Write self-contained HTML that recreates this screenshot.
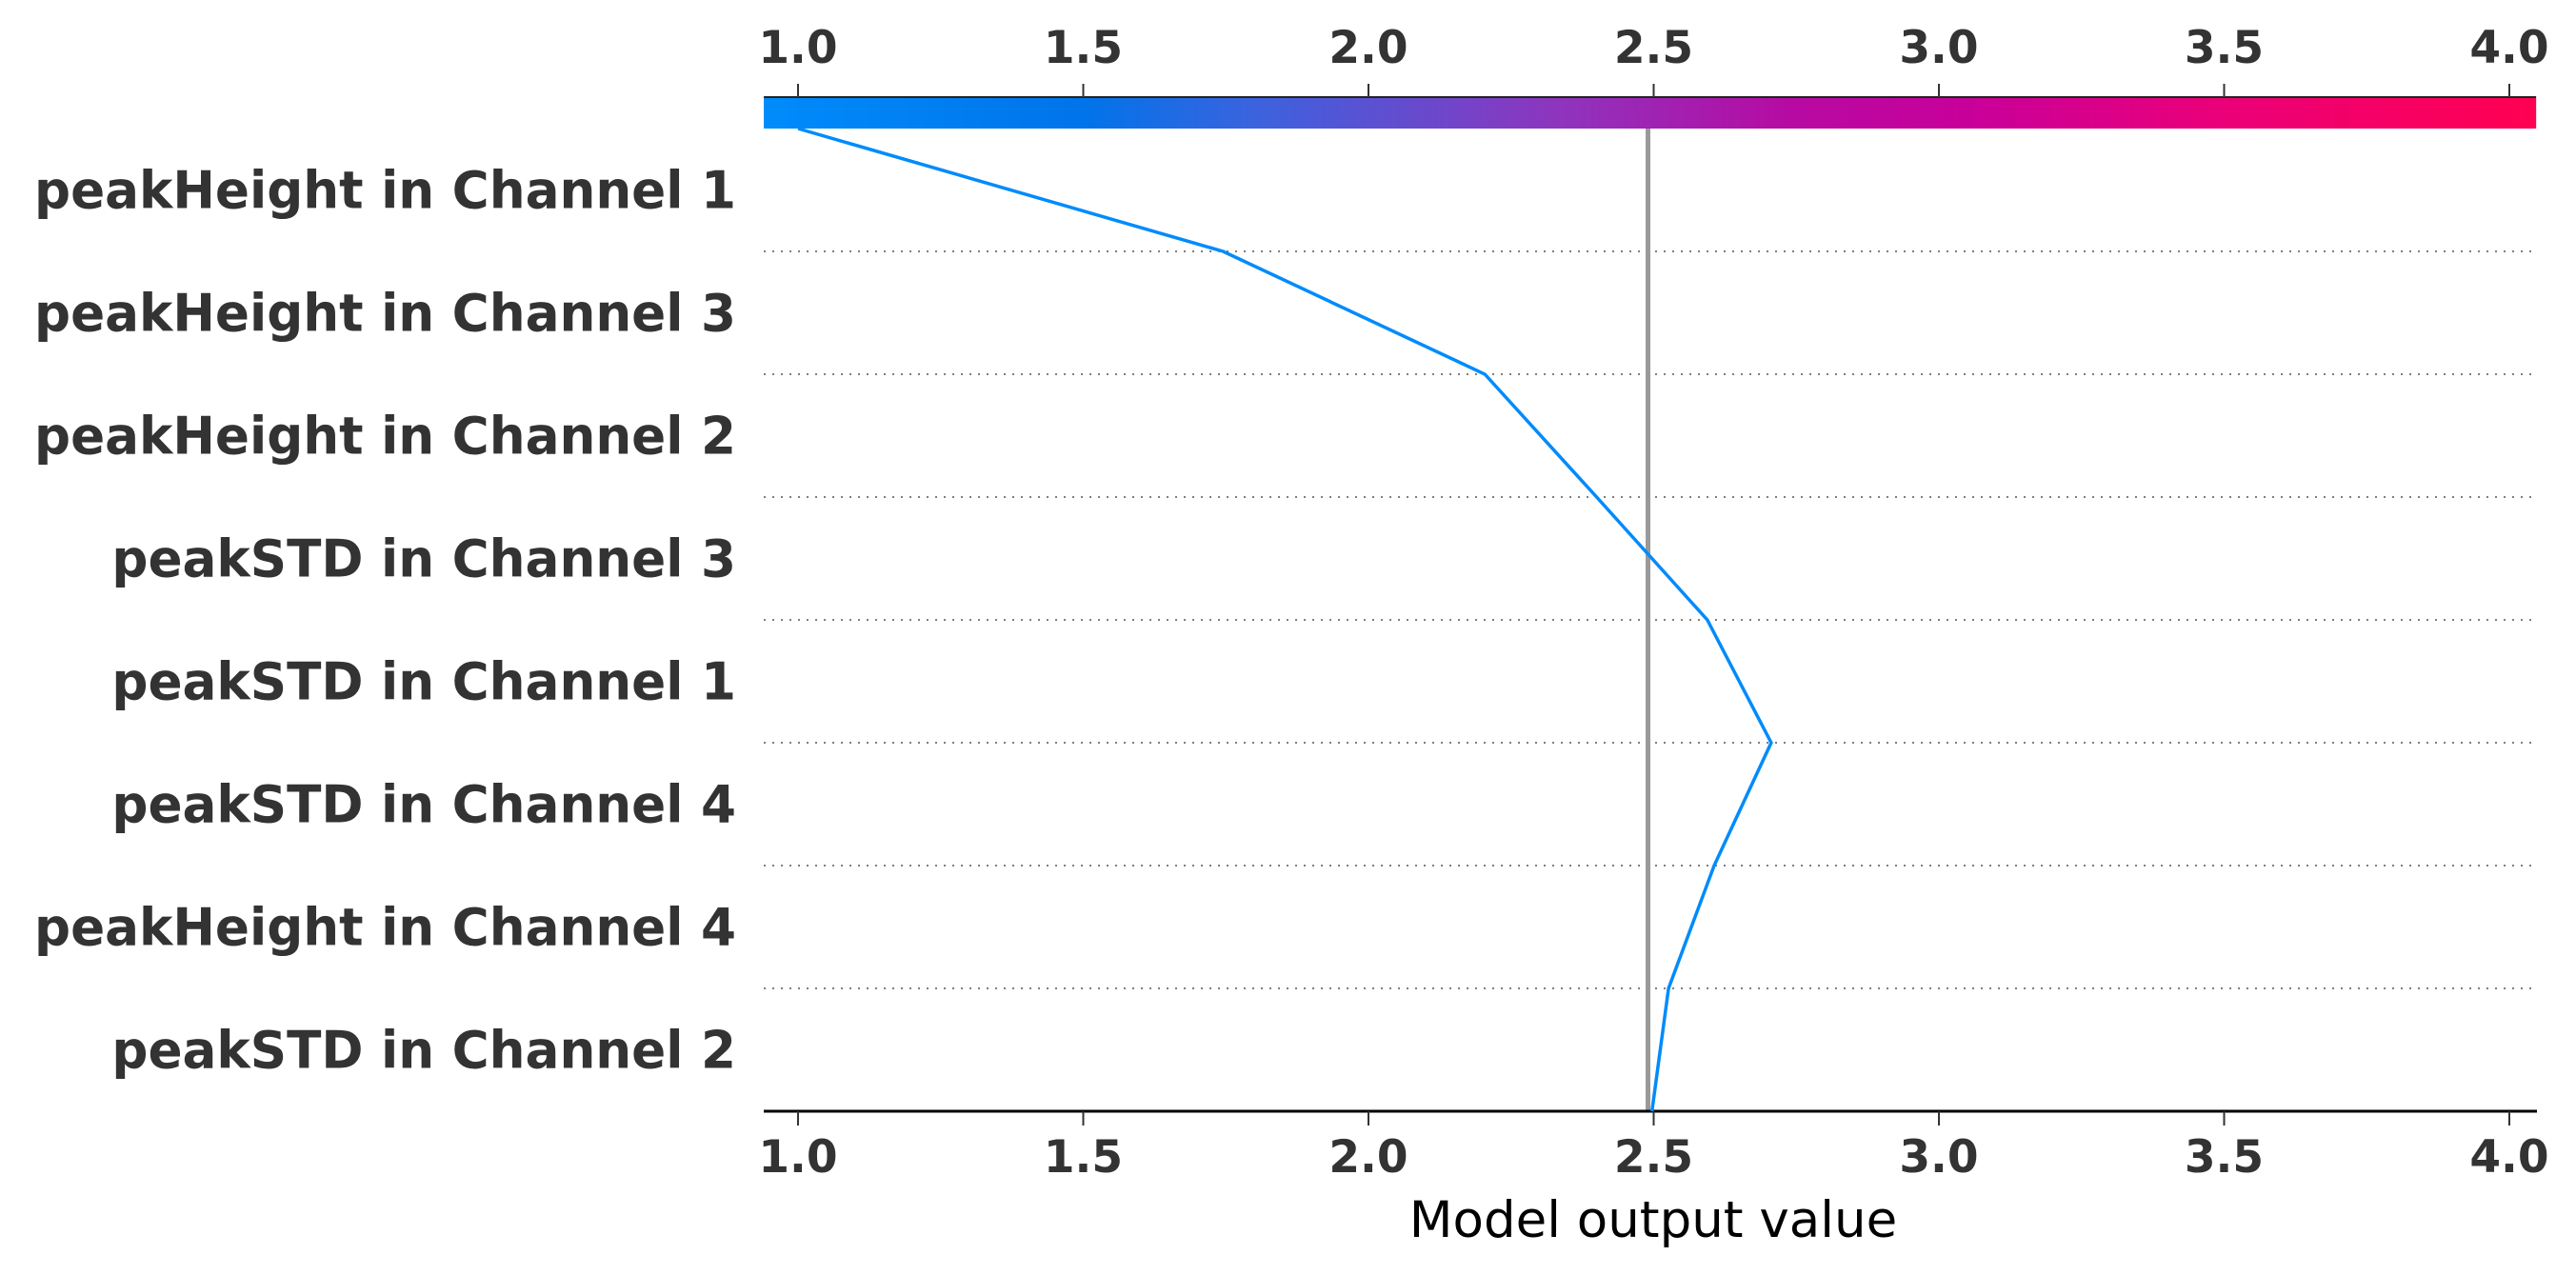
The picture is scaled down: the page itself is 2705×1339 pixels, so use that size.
<!DOCTYPE html>
<html><head><meta charset="utf-8"><style>
html,body{margin:0;padding:0;background:#fff;}
svg{display:block;}
</style></head><body>
<svg id="chart" width="2705" height="1339" viewBox="0 0 2705 1339" xmlns="http://www.w3.org/2000/svg">
<defs>
<linearGradient id="cbar" x1="0" x2="1" y1="0" y2="0">
<stop offset="0" stop-color="#008bfb"/>
<stop offset="0.18" stop-color="#0074ea"/>
<stop offset="0.28" stop-color="#3d62de"/>
<stop offset="0.45" stop-color="#8f34bd"/>
<stop offset="0.58" stop-color="#b70aa2"/>
<stop offset="0.68" stop-color="#c8009a"/>
<stop offset="0.82" stop-color="#ea0079"/>
<stop offset="1" stop-color="#ff0052"/>
</linearGradient>
</defs>
<g id="layer"></g>
</svg>
<script>
const features = ["peakHeight in Channel 1","peakHeight in Channel 3","peakHeight in Channel 2","peakSTD in Channel 3","peakSTD in Channel 1","peakSTD in Channel 4","peakHeight in Channel 4","peakSTD in Channel 2"];
// cumulative model output at each row boundary, top to bottom
const pathValues = [1.00, 1.745, 2.204, 2.40, 2.594, 2.706, 2.606, 2.526, 2.497];
const baseValue = 2.49;
const tickValues = [1.0, 1.5, 2.0, 2.5, 3.0, 3.5, 4.0];
const tickLabels = ["1.0","1.5","2.0","2.5","3.0","3.5","4.0"];
const xMin = 0.94, xMax = 4.047;

const NS = "http://www.w3.org/2000/svg";
const layer = document.getElementById('layer');
const plotLeft = 802, plotRight = 2664, plotTop = 135, plotBottom = 1167;
const rowH = (plotBottom - plotTop) / features.length;
function sx(v){ return 838 + (v - 1.0) * 599; }
function sy(i){ return plotTop + i * rowH; }
function mk(tag, attrs){
  const e = document.createElementNS(NS, tag);
  for (const k in attrs) e.setAttribute(k, attrs[k]);
  layer.appendChild(e);
  return e;
}

const cb = mk('rect', {x: sx(xMin), y: 103, width: sx(xMax) - sx(xMin), height: 32, fill: 'url(#cbar)'});


const cbLine = mk('line', {x1: sx(xMin), x2: sx(xMax), y1: 102, y2: 102, stroke: '#222', 'stroke-width': 2});



for (let i = 1; i < features.length; i++) {
  const l = mk('line', {x1: plotLeft, x2: plotRight, y1: sy(i), y2: sy(i), stroke: '#555', 'stroke-width': 1.5, 'stroke-dasharray': '2 7'});
  
  
}

const labelEls = [];
features.forEach((f, i) => {
  const t = mk('text', {x: 773, y: sy(i) + rowH / 2 + 19, 'text-anchor': 'end', 'font-family': 'DejaVu Sans, Liberation Sans, sans-serif', 'font-weight': 'bold', 'font-size': 54, fill: '#333'});
  t.textContent = f;
  
  
  labelEls.push(t);
});
// scale label widths to match reference ("peakHeight in Channel 1" ~737px wide)
try {
  const scale = 737 / labelEls[0].getComputedTextLength();
  labelEls.forEach(t => {
    const w = t.getComputedTextLength() * scale;
    t.setAttribute('textLength', w.toFixed(1));
    t.setAttribute('lengthAdjust', 'spacingAndGlyphs');
  });
} catch (e) {}

const bl = mk('line', {x1: sx(baseValue), x2: sx(baseValue), y1: plotTop, y2: plotBottom, stroke: '#999', 'stroke-width': 5});



const ax = mk('line', {x1: plotLeft, x2: plotRight, y1: plotBottom, y2: plotBottom, stroke: '#000', 'stroke-width': 3});



tickValues.forEach((v, i) => {
  const tk = mk('line', {x1: sx(v), x2: sx(v), y1: plotBottom, y2: 1182, stroke: '#333', 'stroke-width': 2});
  
  
  const tl = mk('text', {x: sx(v), y: 1231, 'text-anchor': 'middle', 'font-family': 'DejaVu Sans, Liberation Sans, sans-serif', 'font-weight': 'bold', 'font-size': 47, fill: '#333'});
  tl.textContent = tickLabels[i];
  
  
  const tt = mk('line', {x1: sx(v), x2: sx(v), y1: 88, y2: 102, stroke: '#333', 'stroke-width': 2});
  
  
  const ttl = mk('text', {x: sx(v), y: 66, 'text-anchor': 'middle', 'font-family': 'DejaVu Sans, Liberation Sans, sans-serif', 'font-weight': 'bold', 'font-size': 47, fill: '#333'});
  ttl.textContent = tickLabels[i];
  
  
});

const xt = mk('text', {x: 1736, y: 1299, 'text-anchor': 'middle', 'font-family': 'DejaVu Sans, Liberation Sans, sans-serif', 'font-size': 53, fill: '#000'});
xt.textContent = 'Model output value';



const pts = pathValues.map((v, i) => sx(v).toFixed(1) + ',' + sy(i).toFixed(1)).join(' ');
const pl = mk('polyline', {points: pts, fill: 'none', stroke: '#008bfb', 'stroke-width': 3.5, 'stroke-linejoin': 'miter'});


</script>
</body></html>
